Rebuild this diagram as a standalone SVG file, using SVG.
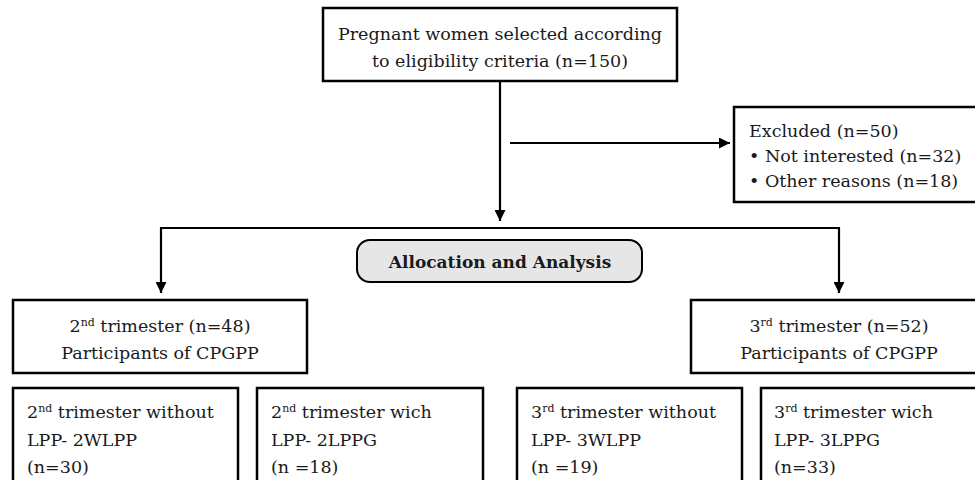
<svg xmlns="http://www.w3.org/2000/svg" width="975" height="480" viewBox="0 0 975 480">
<defs>
<marker id="ah" viewBox="0 0 10 10" refX="10" refY="5" markerWidth="11" markerHeight="11" markerUnits="userSpaceOnUse" orient="auto">
<path d="M0,0 L10,5 L0,10 z" fill="#000"/>
</marker>
<style>
.box{fill:#fff;stroke:#000;stroke-width:2.5}
.pill{fill:#e6e6e6;stroke:#000;stroke-width:2}
.t{font-family:"DejaVu Serif","Liberation Serif",serif;font-size:17.5px;fill:#1a1a1a}
.c{text-anchor:middle}
.b{font-weight:bold;font-size:17px}
.sup{font-size:11px}
.ln{fill:none;stroke:#000;stroke-width:2.2}
</style>
</defs>
<g id="connectors">
<path class="ln" d="M500,82 V221" marker-end="url(#ah)"/>
<path class="ln" d="M510,143 H730" marker-end="url(#ah)"/>
<path class="ln" d="M500,228 H161 V293" marker-end="url(#ah)"/>
<path class="ln" d="M500,228 H839 V293" marker-end="url(#ah)"/>
</g>
<g id="start">
<rect class="box" x="323" y="8" width="354" height="73"/>
<text class="t c" x="500" y="40">Pregnant women selected according</text>
<text class="t c" x="500" y="67">to eligibility criteria (n=150)</text>
</g>
<g id="excluded">
<rect class="box" x="734" y="107" width="260" height="95"/>
<text class="t" x="749" y="137">Excluded (n=50)</text>
<text class="t" x="749" y="162">• Not interested (n=32)</text>
<text class="t" x="749" y="187">• Other reasons (n=18)</text>
</g>
<g id="allocation">
<rect class="pill" x="357" y="240" width="285" height="42" rx="13"/>
<text class="t c b" x="500" y="268">Allocation and Analysis</text>
</g>
<g id="second">
<rect class="box" x="13" y="300" width="294" height="73"/>
<text class="t c" x="160" y="332">2<tspan class="sup" dy="-6">nd</tspan><tspan dy="6"> trimester (n=48)</tspan></text>
<text class="t c" x="160" y="359">Participants of CPGPP</text>
</g>
<g id="third">
<rect class="box" x="691" y="300" width="300" height="73"/>
<text class="t c" x="839" y="332">3<tspan class="sup" dy="-6">rd</tspan><tspan dy="6"> trimester (n=52)</tspan></text>
<text class="t c" x="839" y="359">Participants of CPGPP</text>
</g>
<g id="second-without">
<rect class="box" x="13" y="388" width="225" height="120"/>
<text class="t" x="27" y="418">2<tspan class="sup" dy="-6">nd</tspan><tspan dy="6"> trimester without</tspan></text>
<text class="t" x="27" y="446">LPP- 2WLPP</text>
<text class="t" x="27" y="473">(n=30)</text>
</g>
<g id="second-with">
<rect class="box" x="257" y="388" width="226" height="120"/>
<text class="t" x="271" y="418">2<tspan class="sup" dy="-6">nd</tspan><tspan dy="6"> trimester wich</tspan></text>
<text class="t" x="271" y="446">LPP- 2LPPG</text>
<text class="t" x="271" y="473">(n =18)</text>
</g>
<g id="third-without">
<rect class="box" x="517" y="388" width="225" height="120"/>
<text class="t" x="531" y="418">3<tspan class="sup" dy="-6">rd</tspan><tspan dy="6"> trimester without</tspan></text>
<text class="t" x="531" y="446">LPP- 3WLPP</text>
<text class="t" x="531" y="473">(n =19)</text>
</g>
<g id="third-with">
<rect class="box" x="761" y="388" width="230" height="120"/>
<text class="t" x="774" y="418">3<tspan class="sup" dy="-6">rd</tspan><tspan dy="6"> trimester wich</tspan></text>
<text class="t" x="774" y="446">LPP- 3LPPG</text>
<text class="t" x="774" y="473">(n=33)</text>
</g>
</svg>
